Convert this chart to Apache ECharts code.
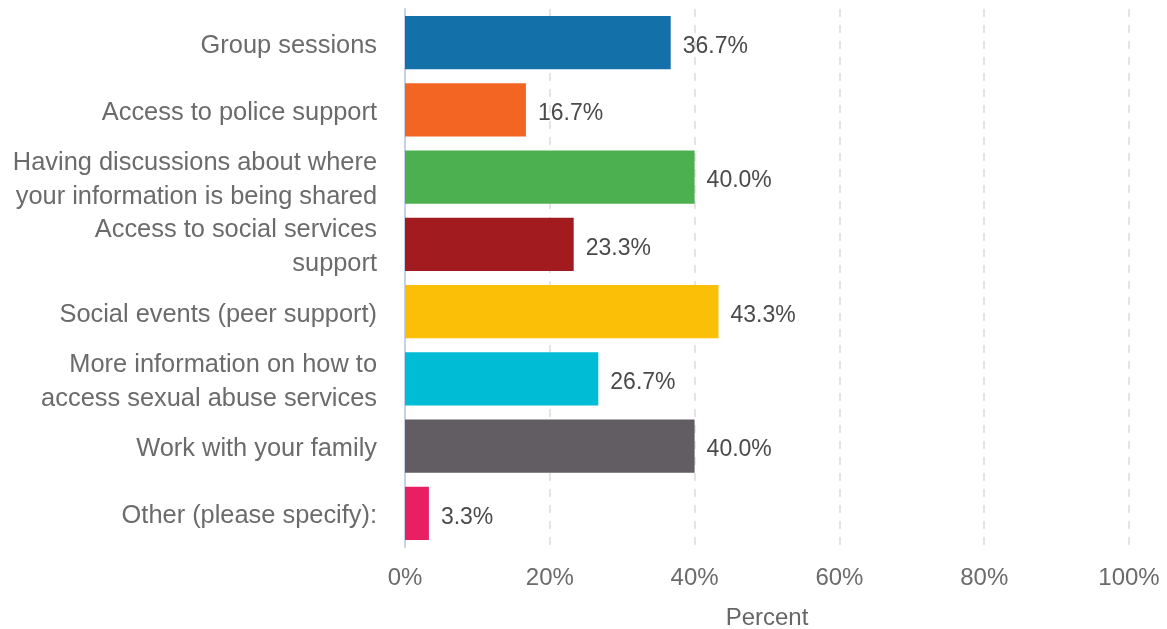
<!DOCTYPE html>
<html>
<head>
<meta charset="utf-8">
<style>html,body{margin:0;padding:0;background:#fff;}#main{width:1167px;height:629px;}</style>
<script src="https://cdn.jsdelivr.net/npm/echarts@6/dist/echarts.min.js"></script>
</head>
<body>
<div id="main"></div>
<script>
const categories = [
  "Group sessions",
  "Access to police support",
  "Having discussions about where\nyour information is being shared",
  "Access to social services\nsupport",
  "Social events (peer support)",
  "More information on how to\naccess sexual abuse services",
  "Work with your family",
  "Other (please specify):"
];
const values = [36.7, 16.7, 40.0, 23.3, 43.3, 26.7, 40.0, 3.3];
const colors = ["#1470a8", "#f26522", "#4caf50", "#a21b1e", "#fcbf07", "#00bcd4", "#625c63", "#e91e63"];
const tickValues = [0, 20, 40, 60, 80, 100];

const chart = echarts.init(document.getElementById('main'));
const font = "'Liberation Sans', Arial, sans-serif";
chart.setOption({
  animation: false,
  grid: { left: 405, right: 38, top: 9, bottom: 82, containLabel: false, outerBoundsMode: 'none' },
  xAxis: {
    type: 'value', min: tickValues[0], max: tickValues[tickValues.length - 1], interval: 20,
    name: 'Percent', nameLocation: 'middle', nameGap: 59,
    nameTextStyle: { fontFamily: font, fontSize: 24, color: '#666' },
    axisLine: { show: false }, axisTick: { show: false },
    axisLabel: { fontFamily: font, fontSize: 24, color: '#6b6b6b', margin: 19, formatter: v => v + '%' },
    splitLine: { show: true, lineStyle: { type: [8, 8], color: '#dcdcdc', width: 1.5 } }
  },
  yAxis: {
    type: 'category', inverse: true, data: categories,
    axisLine: { show: true, lineStyle: { color: '#c5d0ea', width: 2 } },
    axisTick: { show: false },
    axisLabel: {
      margin: 28, align: 'right',
      formatter: v => v.split('\n').map(s => '{a|' + s + '}').join('\n'),
      rich: { a: { fontFamily: font, fontSize: 25.4, color: '#6b6b6b', lineHeight: 34, padding: [6, 0, 0, 0], align: 'right' } }
    }
  },
  series: [{
    type: 'bar',
    data: values.map((v, i) => ({ value: v, itemStyle: { color: colors[i] } })),
    barCategoryGap: '21%',
    label: { show: true, position: 'right', distance: 12, offset: [0, 4], fontFamily: font, fontSize: 23, color: '#4a4a4a',
      formatter: p => p.value.toFixed(1) + '%' }
  }]
});
</script>
</body>
</html>
